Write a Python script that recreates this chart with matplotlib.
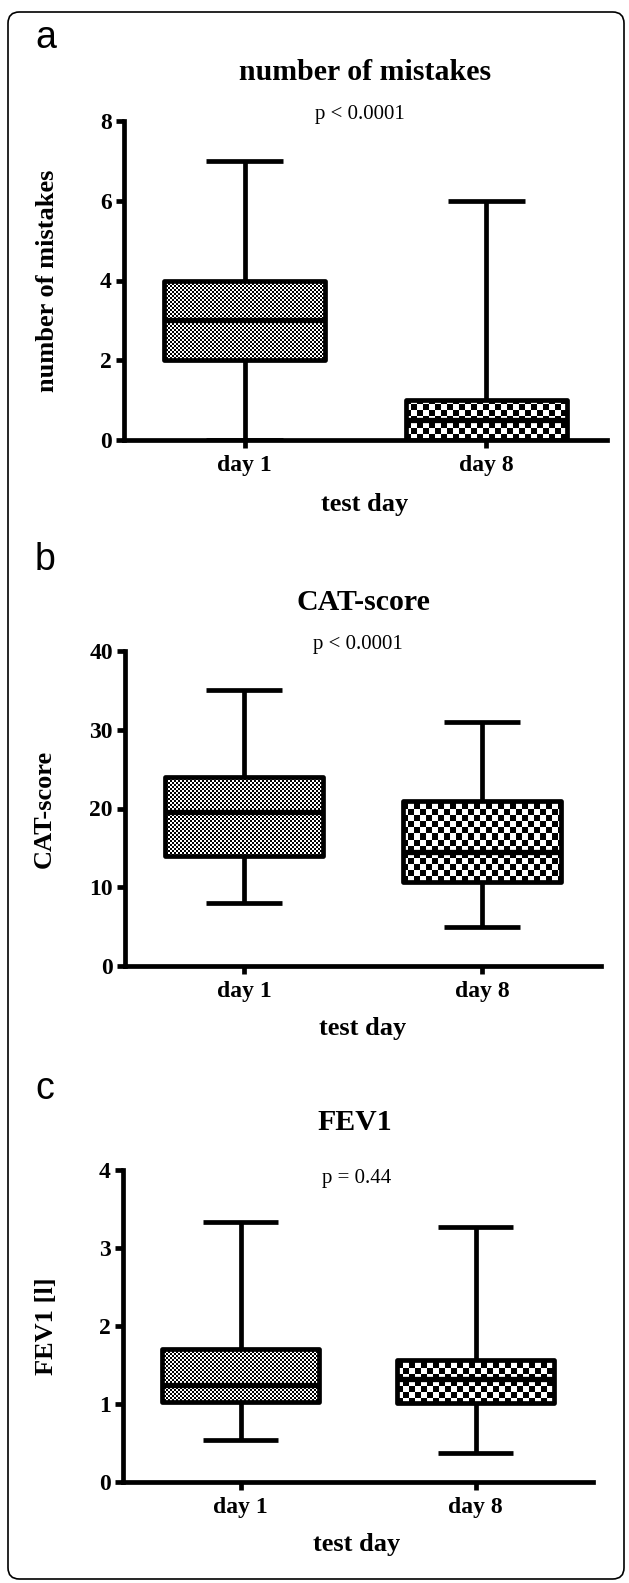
import numpy as np
import matplotlib
matplotlib.use("Agg")
import matplotlib.pyplot as plt
from matplotlib.patches import FancyBboxPatch

# ---------------- data ----------------
categories = ["day 1", "day 8"]

titles = ["number of mistakes", "CAT-score", "FEV1"]
ylabels = ["number of mistakes", "CAT-score", "FEV1 [l]"]
pvalues = ["p < 0.0001", "p < 0.0001", "p = 0.44"]
panel_letters = ["a", "b", "c"]
xlabel = "test day"

# box stats per panel: [day1, day8]
mist_whislo = [0, 0]
mist_q1 = [2, 0]
mist_med = [3, 0.5]
mist_q3 = [4, 1]
mist_whishi = [7, 6]
mist_ticks = [0, 2, 4, 6, 8]

cat_whislo = [8, 5]
cat_q1 = [14, 10.7]
cat_med = [19.5, 14.5]
cat_q3 = [24, 21]
cat_whishi = [35, 31]
cat_ticks = [0, 10, 20, 30, 40]

fev_whislo = [0.54, 0.37]
fev_q1 = [1.02, 1.01]
fev_med = [1.24, 1.32]
fev_q3 = [1.70, 1.57]
fev_whishi = [3.33, 3.27]
fev_ticks = [0, 1, 2, 3, 4]

panels = [
    (mist_whislo, mist_q1, mist_med, mist_q3, mist_whishi, mist_ticks),
    (cat_whislo, cat_q1, cat_med, cat_q3, cat_whishi, cat_ticks),
    (fev_whislo, fev_q1, fev_med, fev_q3, fev_whishi, fev_ticks),
]

# ---------------- layout (pixels) ----------------
W, H = 629, 1583
DPI = 100
fig = plt.figure(figsize=(W / DPI, H / DPI), dpi=DPI)

SERIF = ["Liberation Serif", "DejaVu Serif"]
SANS = ["Liberation Sans", "DejaVu Sans"]

def fx(x):
    return x / W

def fy(y):
    return 1 - y / H

# axes boxes: left, right, top, bottom (pixel coords)
ax_boxes = [(124, 607, 121, 440), (125, 601, 651, 966), (123, 593, 1170, 1482)]
title_pos = [(365, 73), (363, 603), (355, 1123)]
p_pos = [(360, 115), (358, 644), (357, 1179)]
letter_pos = [(35, 48), (35, 570), (35, 1099)]
xlabel_pos = [(365, 504), (363, 1029), (357, 1545)]
ylabel_x = [48, 44, 46]

LW = 3.4  # pt
cell_sizes = [2, 6]  # checker cell in px for day1 / day8

def checker(ax, patch, cell):
    ext = patch.get_path().get_extents(patch.get_transform())
    X0, Y0 = np.floor(ext.x0), np.floor(ext.y0)
    X1, Y1 = np.ceil(ext.x1), np.ceil(ext.y1)
    nc = int(np.ceil((X1 - X0) / cell))
    nr = int(np.ceil((Y1 - Y0) / cell))
    jj, ii = np.meshgrid(np.arange(nc), np.arange(nr))
    arr = ((ii + jj) % 2).astype(float)
    inv = ax.transData.inverted()
    (dx0, dy0) = inv.transform((X0, Y0))
    (dx1, dy1) = inv.transform((X0 + nc * cell, Y0 + nr * cell))
    im = ax.imshow(arr, cmap="gray", vmin=0, vmax=1, extent=(dx0, dx1, dy0, dy1),
                   origin="lower", interpolation="nearest", aspect="auto", zorder=1.5)
    im.set_clip_path(patch)

for k, (wlo, q1, med, q3, whi, ticks) in enumerate(panels):
    l, r, t, b = ax_boxes[k]
    ax = fig.add_axes([fx(l), fy(b), fx(r) - fx(l), fy(t) - fy(b)])
    stats = []
    for i in range(2):
        stats.append(dict(whislo=wlo[i], q1=q1[i], med=med[i], q3=q3[i], whishi=whi[i],
                          fliers=[], label=categories[i]))
    res = ax.bxp(stats, positions=[0, 1], widths=0.667, capwidths=0.32,
                 patch_artist=True, showfliers=False,
                 boxprops=dict(facecolor="none", edgecolor="black", linewidth=LW, zorder=2),
                 medianprops=dict(color="black", linewidth=LW + 0.4, zorder=2.5),
                 whiskerprops=dict(color="black", linewidth=LW, solid_capstyle="butt"),
                 capprops=dict(color="black", linewidth=LW, solid_capstyle="butt"))
    ax.set_xlim(-0.5, 1.5)
    ax.set_ylim(ticks[0], ticks[-1])
    for i, patch in enumerate(res["boxes"]):
        patch.set_joinstyle("round")
        checker(ax, patch, cell_sizes[i])
    ax.set_xlim(-0.5, 1.5)
    ax.set_ylim(ticks[0], ticks[-1])

    for s in ["top", "right"]:
        ax.spines[s].set_visible(False)
    for s in ["left", "bottom"]:
        ax.spines[s].set_linewidth(LW)
        ax.spines[s].set_capstyle("projecting")
    ax.set_yticks(ticks)
    ax.set_yticklabels([str(v) for v in ticks], fontfamily=SERIF, fontweight="bold", fontsize=17)
    ax.set_xticks([0, 1])
    ax.set_xticklabels(categories, fontfamily=SERIF, fontweight="bold", fontsize=17)
    ax.tick_params(axis="both", length=5.8, width=LW, direction="out", color="black")
    ax.tick_params(axis="y", pad=3)
    ax.tick_params(axis="x", pad=5)
    ax.patch.set_visible(False)

    ax.set_xlabel(xlabel, fontfamily=SERIF, fontweight="bold", fontsize=19)
    ax.xaxis.set_label_coords(fx(xlabel_pos[k][0]), fy(xlabel_pos[k][1]), transform=fig.transFigure)
    ax.xaxis.label.set_va("center")
    ax.set_ylabel(ylabels[k], fontfamily=SERIF, fontweight="bold", fontsize=19)
    ax.yaxis.set_label_coords(fx(ylabel_x[k]), (fy(t) + fy(b)) / 2, transform=fig.transFigure)
    ax.yaxis.label.set_va("center")

    fig.text(fx(title_pos[k][0]), fy(title_pos[k][1]), titles[k], ha="center", va="center",
             fontfamily=SERIF, fontweight="bold", fontsize=21.5)
    fig.text(fx(p_pos[k][0]), fy(p_pos[k][1]), pvalues[k], ha="center", va="center",
             fontfamily=SERIF, fontsize=15)
    fig.text(fx(letter_pos[k][0]), fy(letter_pos[k][1]), panel_letters[k], ha="left", va="baseline",
             fontfamily=SANS, fontsize=27)

# outer rounded border
border = FancyBboxPatch((fx(8), fy(1579)), fx(624) - fx(8), fy(12) - fy(1579),
                        boxstyle="round,pad=0,rounding_size=0.018",
                        transform=fig.transFigure, fill=False, edgecolor="black", linewidth=1.2,
                        mutation_aspect=W / H)
fig.patches.append(border)

fig.savefig("out.png", dpi=DPI, facecolor="white")
